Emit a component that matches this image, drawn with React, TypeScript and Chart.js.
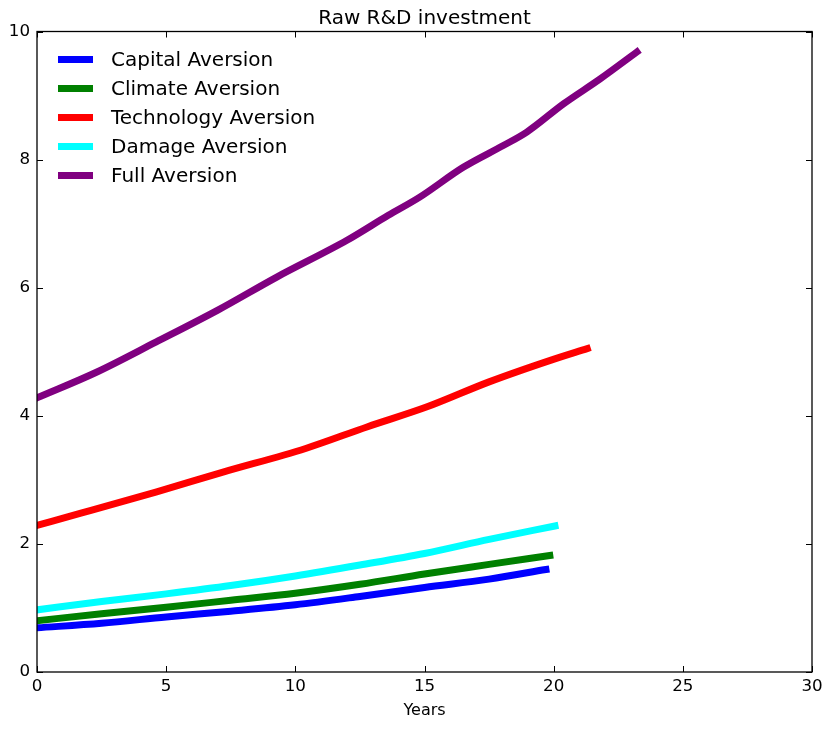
import { useEffect, useRef } from "react"
import { Chart, registerables } from "chart.js"
Chart.register(...registerables)

// values
const capitalYears = [0, 2.5, 5, 7.5, 10, 12.5, 15, 17.5, 19.7]
const capitalValues = [0.69, 0.76, 0.86, 0.95, 1.05, 1.18, 1.32, 1.45, 1.6]

const climateYears = [0, 2.5, 5, 7.5, 10, 12.5, 15, 17.5, 19.85]
const climateValues = [0.8, 0.91, 1.01, 1.12, 1.23, 1.37, 1.53, 1.68, 1.82]

const technologyYears = [0, 1.7, 4.6, 7.2, 10.4, 12.8, 15.1, 17.5, 19.9, 21.3]
const technologyValues = [2.29, 2.48, 2.81, 3.12, 3.49, 3.83, 4.14, 4.53, 4.87, 5.05]

const damageYears = [0, 2.5, 5, 7.5, 10, 12.5, 15, 17.5, 20.05]
const damageValues = [0.97, 1.1, 1.22, 1.35, 1.5, 1.67, 1.85, 2.07, 2.28]

const fullYears = [0, 2.3, 4.6, 7.0, 9.3, 12.0, 13.6, 14.8, 16.5, 18.05, 18.96, 20.38, 21.8, 23.22]
const fullValues = [4.28, 4.68, 5.15, 5.65, 6.17, 6.74, 7.13, 7.41, 7.88, 8.22, 8.43, 8.87, 9.26, 9.68]

const FONT = '"DejaVu Sans", sans-serif'

const toPoints = (xs: number[], ys: number[]) => xs.map((x, i) => ({ x, y: ys[i] }))

// matplotlib-like frame with inward ticks on all four sides
const framePlugin = {
  id: "frame",
  afterDatasetsDraw(chart: any) {
    const { ctx, chartArea: a, scales } = chart
    ctx.save()
    ctx.strokeStyle = "#000"
    ctx.lineWidth = 1.3
    ctx.strokeRect(a.left, a.top, a.right - a.left, a.bottom - a.top)
    ctx.lineWidth = 1
    const len = 6
    ctx.beginPath()
    scales.x.ticks.forEach((t: any) => {
      const px = Math.round(scales.x.getPixelForValue(t.value)) + 0.5
      ctx.moveTo(px, a.bottom)
      ctx.lineTo(px, a.bottom - len)
      ctx.moveTo(px, a.top)
      ctx.lineTo(px, a.top + len)
    })
    scales.y.ticks.forEach((t: any) => {
      const py = Math.round(scales.y.getPixelForValue(t.value)) + 0.5
      ctx.moveTo(a.left, py)
      ctx.lineTo(a.left + len, py)
      ctx.moveTo(a.right, py)
      ctx.lineTo(a.right - len, py)
    })
    ctx.stroke()
    ctx.restore()
  },
}

// frameless legend in the upper left, like matplotlib's
const legendPlugin = {
  id: "innerLegend",
  afterDraw(chart: any) {
    const { ctx, chartArea: a } = chart
    ctx.save()
    ctx.font = `20px ${FONT}`
    ctx.textBaseline = "middle"
    ctx.fillStyle = "#000"
    chart.data.datasets.forEach((ds: any, i: number) => {
      const y = a.top + 28 + i * 29
      ctx.strokeStyle = ds.borderColor
      ctx.lineWidth = 7
      ctx.beginPath()
      ctx.moveTo(a.left + 21, y)
      ctx.lineTo(a.left + 56, y)
      ctx.stroke()
      ctx.fillText(ds.label, a.left + 74, y + 1)
    })
    ctx.restore()
  },
}

export default function App() {
  const chartRef = useRef<HTMLCanvasElement>(null)
  const chartInstance = useRef<Chart | null>(null)

  useEffect(() => {
    if (!chartRef.current) return
    if (chartInstance.current) chartInstance.current.destroy()

    const line = (label: string, color: string, xs: number[], ys: number[]) => ({
      label,
      data: toPoints(xs, ys),
      borderColor: color,
      backgroundColor: color,
      borderWidth: 7,
      borderCapStyle: "square" as const,
      pointRadius: 0,
      cubicInterpolationMode: "monotone" as const,
      fill: false,
    })

    chartInstance.current = new Chart(chartRef.current, {
      type: "line",
      data: {
        datasets: [
          line("Capital Aversion", "#0000ff", capitalYears, capitalValues),
          line("Climate Aversion", "#008000", climateYears, climateValues),
          line("Technology Aversion", "#ff0000", technologyYears, technologyValues),
          line("Damage Aversion", "#00ffff", damageYears, damageValues),
          line("Full Aversion", "#800080", fullYears, fullValues),
        ],
      },
      plugins: [framePlugin, legendPlugin],
      options: {
        animation: false,
        responsive: true,
        maintainAspectRatio: false,
        layout: { padding: { left: 0, right: 20, top: 0, bottom: 0 } },
        scales: {
          x: {
            type: "linear",
            min: 0,
            max: 30,
            grid: { display: false, drawTicks: false },
            border: { display: false },
            ticks: { stepSize: 5, padding: 5, color: "#000", font: { family: FONT, size: 16.7 } },
            title: {
              display: true,
              text: "Years",
              color: "#000",
              font: { family: FONT, size: 16 },
              padding: { top: 0, bottom: 10 },
            },
            afterFit: (scale: any) => {
              scale.height = 58
            },
          },
          y: {
            min: 0,
            max: 10,
            grid: { display: false, drawTicks: false },
            border: { display: false },
            ticks: { stepSize: 2, padding: 7, color: "#000", font: { family: FONT, size: 16.7 } },
            afterFit: (scale: any) => {
              scale.width = 37
            },
          },
        },
        plugins: {
          legend: { display: false },
          tooltip: { enabled: false },
          title: {
            display: true,
            text: "Raw R&D investment",
            color: "#000",
            fullSize: false,
            font: { family: FONT, size: 20, weight: "normal" },
            padding: { top: 7, bottom: 0.5 },
          },
        },
      },
    })

    return () => {
      if (chartInstance.current) {
        chartInstance.current.destroy()
        chartInstance.current = null
      }
    }
  }, [])

  return (
    <div style={{ position: "absolute", left: 0, top: 0, width: 832, height: 730, background: "#fff" }}>
      <canvas ref={chartRef}></canvas>
    </div>
  )
}
